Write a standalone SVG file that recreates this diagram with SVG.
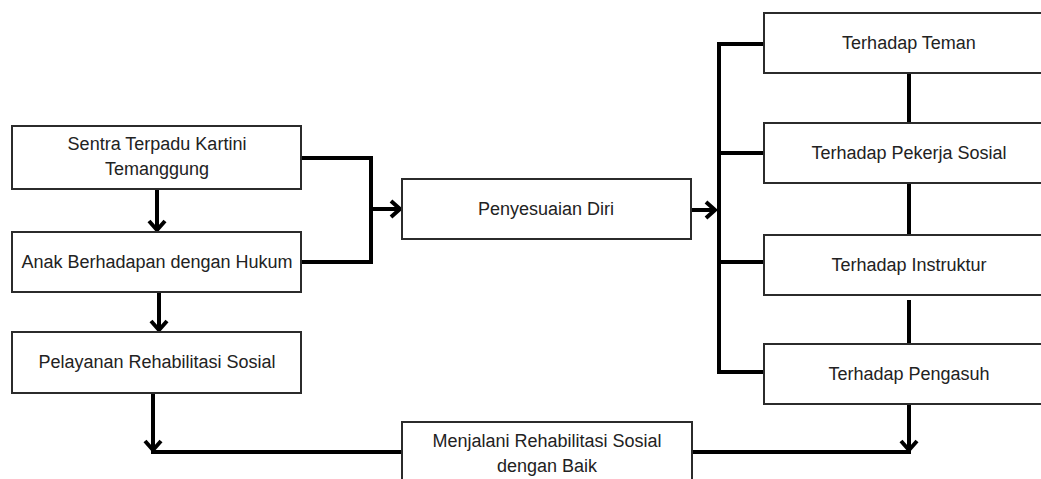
<svg xmlns="http://www.w3.org/2000/svg" width="1041" height="479" viewBox="0 0 1041 479">
<style>
.box{fill:#fff;stroke:#2b2b2b;stroke-width:2}
.lbl{font-family:"Liberation Sans",Arial,sans-serif;font-size:18px;fill:#222;text-anchor:middle}
.con{fill:none;stroke:#000;stroke-width:4;stroke-linejoin:miter}
</style>
<defs>
<marker id="arr" markerUnits="userSpaceOnUse" markerWidth="20" markerHeight="20" viewBox="-12 -10 14 20" refX="0" refY="0" orient="auto">
<path d="M-9,-8 L0,0 L-9,8" fill="none" stroke="#000" stroke-width="4"/>
</marker>
</defs>
<rect width="1041" height="479" fill="#fff"/>
<g id="connectors">
<path class="con" d="M157,189 V230" marker-end="url(#arr)"/>
<path class="con" d="M159,292 V330" marker-end="url(#arr)"/>
<path class="con" d="M301,158 H371 V262 H301"/>
<path class="con" d="M371,209 H400" marker-end="url(#arr)"/>
<path class="con" d="M692,210 H715" marker-end="url(#arr)"/>
<path class="con" d="M764,44 H719 V372 H764"/>
<path class="con" d="M719,153 H764"/>
<path class="con" d="M719,262 H764"/>
<path class="con" d="M909,73 V123"/>
<path class="con" d="M909,183 V235"/>
<path class="con" d="M909,300 V344"/>
<path class="con" d="M153,393 V450" marker-end="url(#arr)"/>
<path class="con" d="M909,404 V450" marker-end="url(#arr)"/>
<path class="con" d="M151,452 H402"/>
<path class="con" d="M692,452 H911"/>
</g>
<g id="sentra"><rect class="box" x="12" y="126" width="289" height="63"/><text class="lbl" x="157" y="150">Sentra Terpadu Kartini</text><text class="lbl" x="157" y="175">Temanggung</text></g>
<g id="anak"><rect class="box" x="12" y="232" width="289" height="60"/><text class="lbl" x="157" y="268">Anak Berhadapan dengan Hukum</text></g>
<g id="pelayanan"><rect class="box" x="12" y="332" width="289" height="61"/><text class="lbl" x="157" y="368">Pelayanan Rehabilitasi Sosial</text></g>
<g id="penyesuaian"><rect class="box" x="402" y="179" width="289" height="60"/><text class="lbl" x="546" y="215">Penyesuaian Diri</text></g>
<g id="teman"><rect class="box" x="764" y="13" width="290" height="60"/><text class="lbl" x="909" y="49">Terhadap Teman</text></g>
<g id="pekerja"><rect class="box" x="764" y="123" width="290" height="60"/><text class="lbl" x="909" y="159">Terhadap Pekerja Sosial</text></g>
<g id="instruktur"><rect class="box" x="764" y="235" width="290" height="60"/><text class="lbl" x="909" y="271">Terhadap Instruktur</text></g>
<g id="pengasuh"><rect class="box" x="764" y="344" width="290" height="60"/><text class="lbl" x="909" y="380">Terhadap Pengasuh</text></g>
<g id="menjalani"><rect class="box" x="402" y="422" width="290" height="70"/><text class="lbl" x="547" y="447">Menjalani Rehabilitasi Sosial</text><text class="lbl" x="547" y="472">dengan Baik</text></g>
</svg>
